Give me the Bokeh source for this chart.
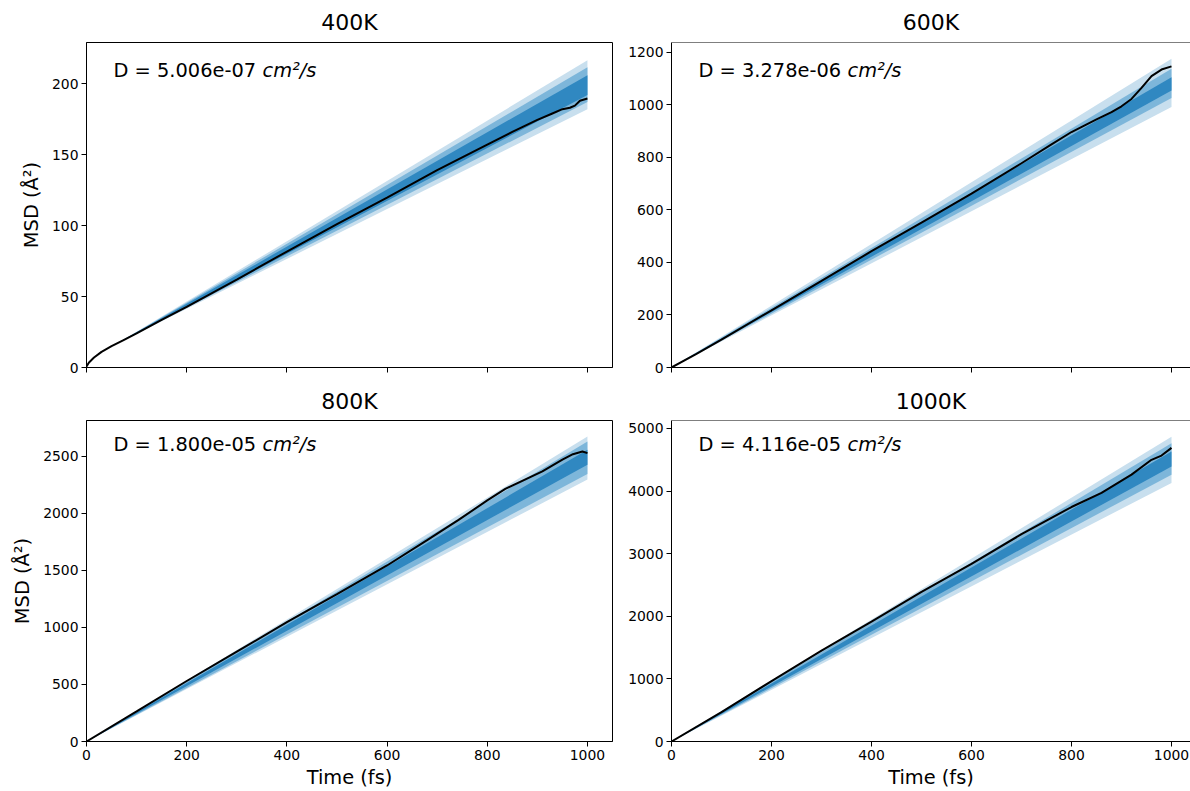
from bokeh.plotting import figure
from bokeh.layouts import column, row
from bokeh.models import FixedTicker, Label, Span, Range1d, CustomJSTickFormatter
from bokeh.embed import file_html
from bokeh.resources import INLINE

# ---------------- data ----------------
titles = ["400K", "600K", "800K", "1000K"]
d_values = ["5.006e-07", "3.278e-06", "1.800e-05", "4.116e-05"]

x_ticks = [0, 200, 400, 600, 800, 1000]

# 400K
t_400 = [0, 5, 15, 30, 50, 75, 100, 150, 200, 300, 400, 500, 600, 700, 800, 850, 900, 930, 950, 965, 975, 985, 1000]
msd_400 = [0.8, 3.5, 7, 11, 15, 19.5, 24, 33.5, 42.7, 62, 81.7, 101, 119.7, 139, 157, 166, 174.5, 179, 182, 183, 184.5, 188, 189.5]
band_t_400 = [60, 1000]
band_start_400 = 16.7
band_end_400 = [182, 187, 192, 206, 211.5, 216.5]   # light lo, mid lo, dark lo, dark hi, mid hi, light hi
y_max_400 = 229
y_ticks_400 = [0, 50, 100, 150, 200]

# 600K
t_600 = [0, 50, 100, 200, 300, 400, 500, 600, 700, 760, 800, 850, 880, 900, 920, 940, 960, 980, 1000]
msd_600 = [0, 52, 106, 218, 330, 443, 552, 662, 778, 850, 897, 945, 973, 995, 1023, 1065, 1110, 1135, 1147]
band_t_600 = [0, 1000]
band_start_600 = 0.0
band_end_600 = [992, 1027, 1055, 1106, 1138, 1176]
y_max_600 = 1238
y_ticks_600 = [0, 200, 400, 600, 800, 1000, 1200]

# 800K
t_800 = [0, 100, 200, 300, 400, 500, 600, 680, 742, 800, 836, 910, 950, 971, 990, 1000]
msd_800 = [0, 263, 530, 787, 1045, 1290, 1542, 1764, 1939, 2112, 2213, 2367, 2470, 2517, 2540, 2526]
band_t_800 = [0, 1000]
band_start_800 = 0.0
band_end_800 = [2295, 2344, 2425, 2555, 2627, 2671]
y_max_800 = 2812
y_ticks_800 = [0, 500, 1000, 1500, 2000, 2500]

# 1000K
t_1000 = [0, 100, 200, 300, 400, 500, 600, 700, 800, 860, 920, 960, 980, 1000]
msd_1000 = [0, 470, 965, 1450, 1915, 2389, 2838, 3312, 3745, 3971, 4262, 4499, 4567, 4690]
band_t_1000 = [0, 1000]
band_start_1000 = 0.0
band_end_1000 = [4130, 4262, 4394, 4631, 4763, 4868]
y_max_1000 = 5127
y_ticks_1000 = [0, 1000, 2000, 3000, 4000, 5000]

# ---------------- style ----------------
FONT = "DejaVu Sans"
LIGHT, MED, DARK = "#c8dfee", "#7db6da", "#3088c1"


def panel(title, dval, t, msd, bt_x, start, ends, ymax, yticks, xmax, w, h,
          bl, br, bt, bb, tstand, ylabel, xlabel, show_xlabels, cropped):
    p = figure(width=w, height=h, x_range=Range1d(0, xmax), y_range=Range1d(0, ymax),
               output_backend="svg", toolbar_location=None, title=title,
               min_border_left=bl, min_border_right=br, min_border_top=bt, min_border_bottom=bb)
    p.title.text_font = FONT
    p.title.text_font_size = "22px"
    p.title.text_font_style = "normal"
    p.title.text_color = "black"
    p.title.align = "center"
    p.title.standoff = tstand
    p.title.text_line_height = 1.0
    p.grid.visible = False
    p.background_fill_color = "white"
    p.border_fill_color = "white"

    p.varea(x=bt_x, y1=[start, ends[0]], y2=[start, ends[5]], fill_color=LIGHT)
    p.varea(x=bt_x, y1=[start, ends[1]], y2=[start, ends[4]], fill_color=MED)
    p.varea(x=bt_x, y1=[start, ends[2]], y2=[start, ends[3]], fill_color=DARK)
    p.line(t, msd, line_color="black", line_width=2)

    p.xaxis.ticker = FixedTicker(ticks=x_ticks)
    p.yaxis.ticker = FixedTicker(ticks=yticks)
    for ax in (p.xaxis[0], p.yaxis[0]):
        ax.major_tick_out = 5
        ax.major_tick_in = 0
        ax.minor_tick_out = 0
        ax.minor_tick_in = 0
        ax.axis_line_color = "black"
        ax.major_tick_line_color = "black"
        ax.major_label_text_font = FONT
        ax.major_label_text_font_size = "13.9px"
        ax.major_label_text_color = "black"
        ax.major_label_standoff = 3
        ax.axis_label_text_font = FONT
        ax.axis_label_text_font_size = "19.4px"
        ax.axis_label_text_font_style = "normal"
        ax.axis_label_text_color = "black"
        ax.axis_label_text_line_height = 1.0
    if ylabel:
        p.yaxis.axis_label = ylabel
        p.yaxis.axis_label_standoff = 6
    if xlabel:
        p.xaxis.axis_label = xlabel
        p.xaxis.axis_label_standoff = 3
    if not show_xlabels:
        p.xaxis.formatter = CustomJSTickFormatter(code="return ''")

    if cropped:
        p.outline_line_color = None
        p.add_layout(Span(location=ymax, dimension="width", line_color="black", line_width=1))
    else:
        p.outline_line_color = "black"
        p.outline_line_alpha = 1

    p.add_layout(Label(x=27, y=297, x_units="screen", y_units="screen",
                       text="D = " + dval, text_font=FONT, text_font_size="19.4px",
                       text_baseline="alphabetic", text_color="black"))
    p.add_layout(Label(x=27 + 149, y=297, x_units="screen", y_units="screen",
                       text="cm²/s", text_font=FONT, text_font_size="19.4px",
                       text_font_style="italic", text_baseline="alphabetic", text_color="black"))
    return p


ylab = "MSD (Å²)"
p1 = panel(titles[0], d_values[0], t_400, msd_400, band_t_400, band_start_400, band_end_400, y_max_400, y_ticks_400,
           1050, 625, 377, 86, 13, 42, 10, 15, ylab, None, False, False)
p2 = panel(titles[1], d_values[1], t_600, msd_600, band_t_600, band_start_600, band_end_600, y_max_600, y_ticks_600,
           1038, 565, 377, 46, 0, 42, 10, 15, None, None, False, True)
p3 = panel(titles[2], d_values[2], t_800, msd_800, band_t_800, band_start_800, band_end_800, y_max_800, y_ticks_800,
           1050, 625, 414, 86, 13, 43, 47, 13, ylab, "Time (fs)", True, False)
p4 = panel(titles[3], d_values[3], t_1000, msd_1000, band_t_1000, band_start_1000, band_end_1000, y_max_1000, y_ticks_1000,
           1038, 565, 414, 46, 0, 43, 47, 13, None, "Time (fs)", True, True)

layout = column(row(p1, p2), row(p3, p4))
open("out.html", "w").write(file_html(layout, INLINE))
